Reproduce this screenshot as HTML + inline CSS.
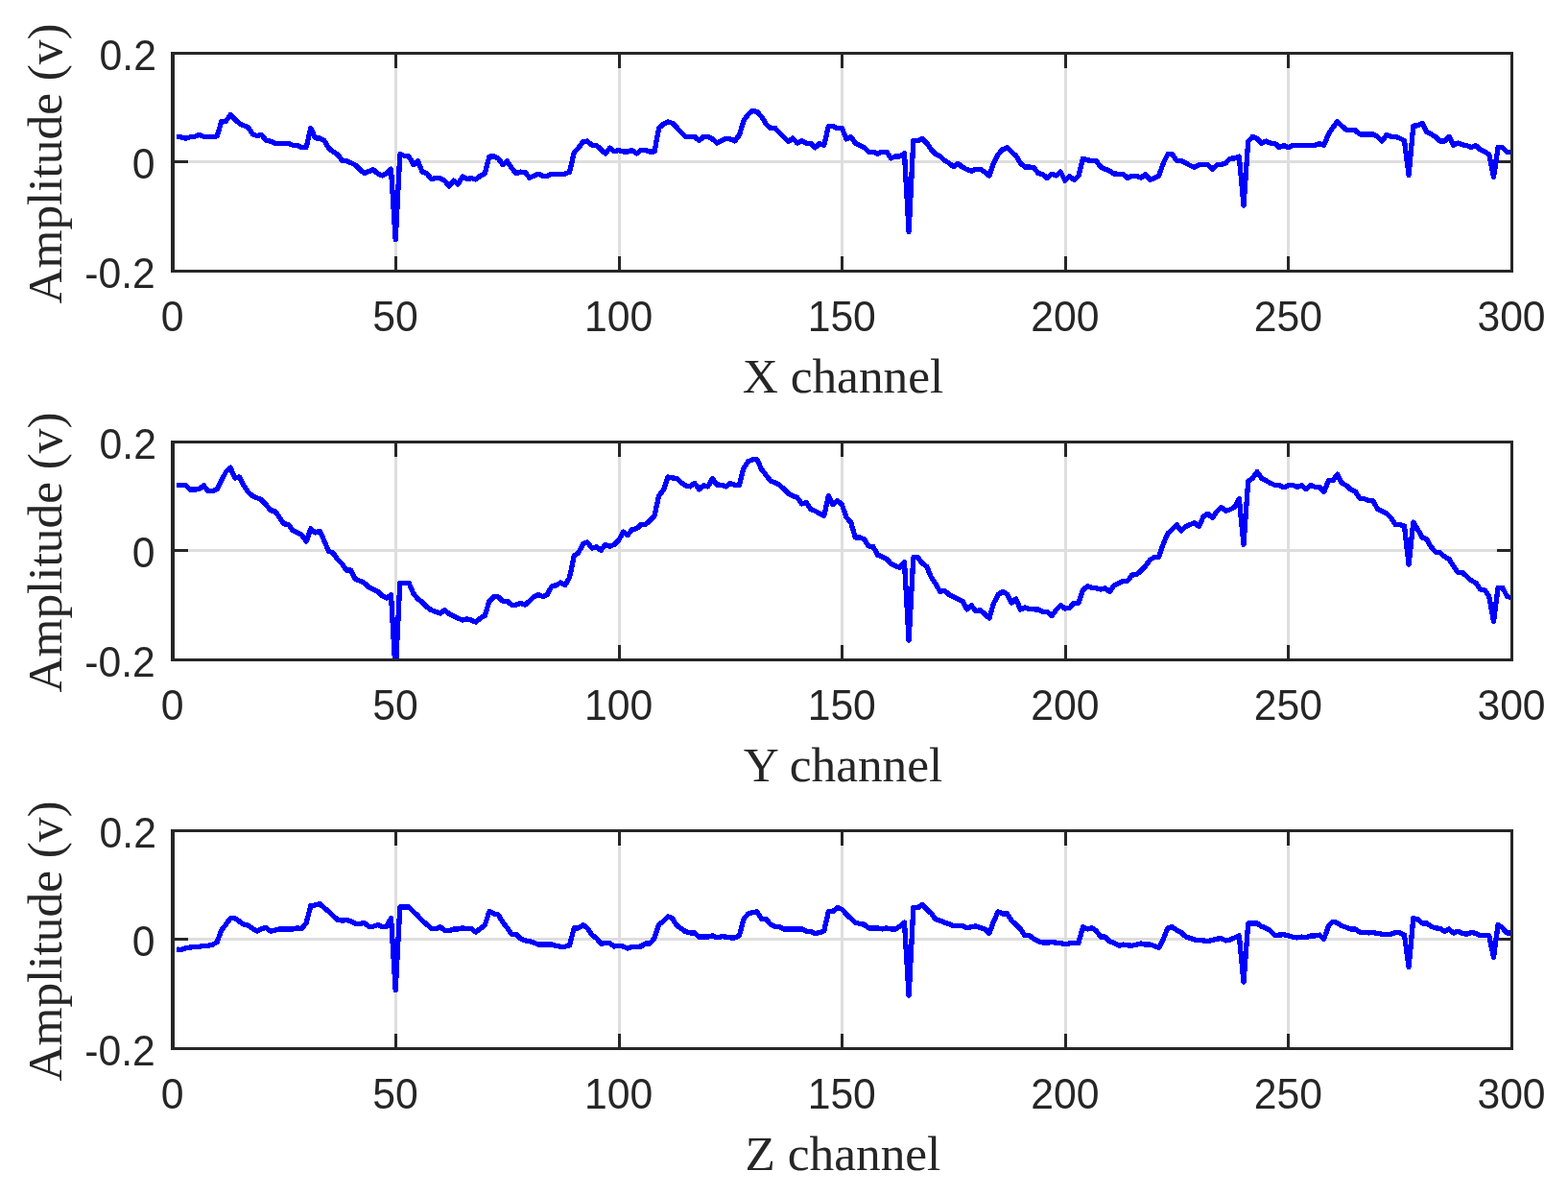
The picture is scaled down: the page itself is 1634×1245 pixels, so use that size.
<!DOCTYPE html>
<html><head><meta charset="utf-8"><title>Amplitude channels</title>
<style>
html,body{margin:0;padding:0;background:#fff;}
body{width:1634px;height:1245px;overflow:hidden;}
svg{display:block;}
.t{font-family:"Liberation Sans",sans-serif;font-size:42.7px;fill:#262626;}
.l{font-family:"Liberation Serif",serif;font-size:50.0px;fill:#262626;}
.ax{fill:#262626;shape-rendering:crispEdges;}
.g{fill:#dedede;shape-rendering:crispEdges;}
.d{fill:none;stroke:#0000ff;stroke-width:5.3;stroke-linejoin:round;stroke-linecap:butt;shape-rendering:crispEdges;}
</style></head><body>
<svg width="1634" height="1245" viewBox="0 0 1634 1245">
<rect width="1634" height="1245" fill="#fff"/>
<g>
<rect class="g" x="411" y="57" width="3" height="224"/>
<rect class="g" x="644" y="57" width="3" height="224"/>
<rect class="g" x="876" y="57" width="3" height="224"/>
<rect class="g" x="1109" y="57" width="3" height="224"/>
<rect class="g" x="1341" y="57" width="3" height="224"/>
<rect class="g" x="182" y="167" width="1392" height="3"/>
<rect class="ax" x="411" y="54" width="3" height="17"/>
<rect class="ax" x="411" y="267" width="3" height="17"/>
<rect class="ax" x="644" y="54" width="3" height="17"/>
<rect class="ax" x="644" y="267" width="3" height="17"/>
<rect class="ax" x="876" y="54" width="3" height="17"/>
<rect class="ax" x="876" y="267" width="3" height="17"/>
<rect class="ax" x="1109" y="54" width="3" height="17"/>
<rect class="ax" x="1109" y="267" width="3" height="17"/>
<rect class="ax" x="1341" y="54" width="3" height="17"/>
<rect class="ax" x="1341" y="267" width="3" height="17"/>
<rect class="ax" x="178" y="167" width="18" height="3"/>
<rect class="ax" x="1560" y="167" width="17" height="3"/>
<clipPath id="c0"><rect x="180" y="56" width="1396" height="226"/></clipPath>
<polyline class="d" clip-path="url(#c0)" points="184.3,142.4 188.9,142.9 193.6,144.1 198.2,142.8 202.9,142.3 207.5,140.4 212.2,142.3 216.8,142.4 221.5,142.4 226.1,141.9 230.8,126.6 235.4,126.3 240.1,119.6 244.7,124.1 249.4,128.6 254.0,130.8 258.7,132.9 263.3,139.6 268.0,141.6 272.6,140.4 277.3,146.3 281.9,147.1 286.6,149.1 291.2,149.4 295.9,149.4 300.5,149.4 305.2,151.3 309.8,151.6 314.5,153.8 319.2,153.3 323.8,133.6 328.5,143.8 333.1,144.1 337.8,146.3 342.4,154.1 347.1,158.2 351.7,160.7 356.4,167.1 361.0,167.4 365.7,169.6 370.3,171.9 375.0,176.6 379.6,180.7 384.3,178.6 388.9,176.6 393.6,180.7 398.2,182.9 402.9,180.7 407.5,176.2 412.2,249.8 416.8,160.7 421.5,162.4 426.1,162.9 430.8,171.6 435.4,167.9 440.1,179.1 444.7,180.7 449.4,186.5 454.0,185.7 458.7,185.7 463.4,188.2 468.0,194.0 472.7,188.2 477.3,191.9 482.0,184.1 486.6,186.5 491.3,185.7 495.9,186.9 500.6,183.2 505.2,180.7 509.9,163.2 514.5,162.9 519.2,164.9 523.8,171.6 528.5,167.9 533.1,174.9 537.8,180.7 542.4,179.1 547.1,179.4 551.7,185.2 556.4,183.2 561.0,181.2 565.7,183.2 570.3,183.2 575.0,181.2 579.6,181.2 584.3,181.2 588.9,181.2 593.6,179.1 598.2,159.1 602.9,154.1 607.6,147.4 612.2,147.1 616.9,151.3 621.5,151.3 626.2,155.8 630.8,159.9 635.5,154.1 640.1,157.8 644.8,156.6 649.4,157.9 654.1,157.9 658.7,156.6 663.4,159.9 668.0,156.6 672.7,156.6 677.3,158.2 682.0,157.9 686.6,133.6 691.3,129.1 695.9,127.0 700.6,128.3 705.2,132.9 709.9,137.9 714.5,142.4 719.2,142.4 723.8,142.4 728.5,146.6 733.1,142.4 737.8,142.4 742.5,144.9 747.1,149.1 751.8,146.6 756.4,144.4 761.1,144.9 765.7,146.9 770.4,140.8 775.0,125.8 779.7,119.1 784.3,115.3 789.0,116.6 793.6,121.6 798.3,129.1 802.9,133.6 807.6,133.3 812.2,138.3 816.9,142.9 821.5,147.4 826.2,144.1 830.8,149.1 835.5,146.9 840.1,149.1 844.8,149.4 849.4,153.8 854.1,149.4 858.7,151.3 863.4,131.6 868.0,131.6 872.7,133.6 877.4,133.6 882.0,144.9 886.7,142.4 891.3,149.1 896.0,151.3 900.6,153.6 905.3,158.2 909.9,158.2 914.6,160.2 919.2,158.2 923.9,158.2 928.5,164.9 933.2,162.9 937.8,162.9 942.5,159.9 947.1,241.5 951.8,146.6 956.4,146.6 961.1,144.6 965.7,149.1 970.4,155.8 975.0,160.4 979.7,162.9 984.3,167.1 989.0,169.9 993.6,173.7 998.3,170.2 1002.9,174.1 1007.6,176.6 1012.2,178.2 1016.9,176.2 1021.6,176.2 1026.2,179.1 1030.9,183.2 1035.5,169.9 1040.2,160.7 1044.8,155.8 1049.5,153.8 1054.1,158.2 1058.8,162.4 1063.4,169.9 1068.1,174.1 1072.7,174.1 1077.4,174.4 1082.0,180.7 1086.7,181.6 1091.3,185.7 1096.0,181.2 1100.6,182.9 1105.3,179.1 1109.9,188.2 1114.6,183.6 1119.2,187.4 1123.9,183.2 1128.5,165.2 1133.2,166.9 1137.8,167.4 1142.5,167.4 1147.1,174.1 1151.8,176.2 1156.4,178.2 1161.1,181.1 1165.8,181.2 1170.4,181.2 1175.1,185.7 1179.7,183.2 1184.4,183.2 1189.0,185.2 1193.7,181.6 1198.3,187.4 1203.0,185.7 1207.6,183.2 1212.3,169.9 1216.9,160.7 1221.6,160.7 1226.2,167.4 1230.9,167.4 1235.5,169.9 1240.2,172.4 1244.8,174.4 1249.5,171.6 1254.1,171.6 1258.8,171.6 1263.4,176.2 1268.1,171.9 1272.7,171.6 1277.4,169.9 1282.0,165.2 1286.7,164.9 1291.3,163.2 1296.0,214.0 1300.7,147.4 1305.3,142.4 1310.0,144.6 1314.6,149.1 1319.3,147.1 1323.9,149.1 1328.6,149.4 1333.2,153.6 1337.9,151.6 1342.5,153.6 1347.2,151.6 1351.8,151.6 1356.5,151.6 1361.1,151.6 1365.8,151.6 1370.4,151.3 1375.1,149.6 1379.7,151.3 1384.4,139.9 1389.0,132.9 1393.7,126.6 1398.3,131.1 1403.0,135.3 1407.6,135.3 1412.3,135.8 1416.9,139.9 1421.6,139.9 1426.2,139.9 1430.9,139.9 1435.5,142.4 1440.2,147.1 1444.9,140.4 1449.5,142.1 1454.2,142.4 1458.8,144.1 1463.5,146.6 1468.1,182.4 1472.8,131.1 1477.4,130.8 1482.1,128.6 1486.7,137.4 1491.4,139.9 1496.0,142.4 1500.7,147.1 1505.3,147.1 1510.0,142.4 1514.6,151.3 1519.3,149.1 1523.9,150.8 1528.6,151.6 1533.2,153.6 1537.9,151.6 1542.5,155.8 1547.2,158.2 1551.8,160.7 1556.5,184.6 1561.1,153.6 1565.8,153.6 1570.4,158.2 1575.1,158.2 1579.1,158.2"/>
<rect class="ax" x="178" y="54" width="1399" height="3"/>
<rect class="ax" x="178" y="281" width="1399" height="3"/>
<rect class="ax" x="178" y="54" width="4" height="230"/>
<rect class="ax" x="1574" y="54" width="3" height="230"/>
<text class="t" text-anchor="middle" transform="translate(179.50,344.60) scale(1,1.02)">0</text>
<text class="t" text-anchor="middle" transform="translate(412.08,344.60) scale(1,1.02)">50</text>
<text class="t" text-anchor="middle" transform="translate(644.67,344.60) scale(1,1.02)">100</text>
<text class="t" text-anchor="middle" transform="translate(877.25,344.60) scale(1,1.02)">150</text>
<text class="t" text-anchor="middle" transform="translate(1109.83,344.60) scale(1,1.02)">200</text>
<text class="t" text-anchor="middle" transform="translate(1342.42,344.60) scale(1,1.02)">250</text>
<text class="t" text-anchor="middle" transform="translate(1575.00,344.60) scale(1,1.02)">300</text>
<text class="t" text-anchor="end" transform="translate(162.90,72.60) scale(1,1.02)">0.2</text>
<text class="t" text-anchor="end" transform="translate(161.40,186.40) scale(1,1.02)">0</text>
<text class="t" text-anchor="end" transform="translate(161.80,299.60) scale(1,1.02)">-0.2</text>
<text class="l" text-anchor="middle" transform="translate(878.50,409.00) scale(1.027,1)">X channel</text>
<text class="l" text-anchor="middle" transform="translate(64.2,170.50) rotate(-90) scale(1.027,1)">Amplitude (v)</text>
</g>
<g>
<rect class="g" x="411" y="462" width="3" height="224"/>
<rect class="g" x="644" y="462" width="3" height="224"/>
<rect class="g" x="876" y="462" width="3" height="224"/>
<rect class="g" x="1109" y="462" width="3" height="224"/>
<rect class="g" x="1341" y="462" width="3" height="224"/>
<rect class="g" x="182" y="572" width="1392" height="3"/>
<rect class="ax" x="411" y="459" width="3" height="17"/>
<rect class="ax" x="411" y="672" width="3" height="17"/>
<rect class="ax" x="644" y="459" width="3" height="17"/>
<rect class="ax" x="644" y="672" width="3" height="17"/>
<rect class="ax" x="876" y="459" width="3" height="17"/>
<rect class="ax" x="876" y="672" width="3" height="17"/>
<rect class="ax" x="1109" y="459" width="3" height="17"/>
<rect class="ax" x="1109" y="672" width="3" height="17"/>
<rect class="ax" x="1341" y="459" width="3" height="17"/>
<rect class="ax" x="1341" y="672" width="3" height="17"/>
<rect class="ax" x="178" y="572" width="18" height="3"/>
<rect class="ax" x="1560" y="572" width="17" height="3"/>
<clipPath id="c1"><rect x="180" y="461" width="1396" height="226"/></clipPath>
<polyline class="d" clip-path="url(#c1)" points="184.3,505.5 188.9,505.5 193.6,505.8 198.2,510.0 202.9,510.0 207.5,509.6 212.2,505.8 216.8,511.6 221.5,511.6 226.1,509.6 230.8,500.8 235.4,491.7 240.1,487.2 244.7,498.0 249.4,497.0 254.0,505.8 258.7,513.0 263.3,516.6 268.0,518.8 272.6,520.8 277.3,525.8 281.9,531.9 286.6,532.4 291.2,539.1 295.9,545.8 300.5,546.3 305.2,552.9 309.8,554.9 314.5,557.4 319.2,564.1 323.8,550.8 328.5,554.9 333.1,553.2 337.8,563.2 342.4,574.1 347.1,576.2 351.7,582.9 356.4,587.4 361.0,594.0 365.7,594.0 370.3,603.2 375.0,605.2 379.6,607.4 384.3,611.8 388.9,614.0 393.6,616.2 398.2,620.7 402.9,623.2 407.5,619.8 412.2,701.4 416.8,607.4 421.5,607.4 426.1,607.4 430.8,618.2 435.4,624.0 440.1,627.5 444.7,632.3 449.4,635.6 454.0,637.3 458.7,639.0 463.4,635.6 468.0,639.5 472.7,641.8 477.3,644.0 482.0,646.1 486.6,644.8 491.3,646.1 495.9,648.1 500.6,644.0 505.2,641.5 509.9,626.5 514.5,621.8 519.2,621.8 523.8,626.2 528.5,626.2 533.1,630.2 537.8,630.2 542.4,628.5 547.1,630.2 551.7,626.2 556.4,621.8 561.0,619.5 565.7,621.5 570.3,619.5 575.0,610.7 579.6,609.8 584.3,606.9 588.9,609.5 593.6,601.5 598.2,579.1 602.9,575.7 607.6,566.6 612.2,564.9 616.9,571.1 621.5,569.9 626.2,573.2 630.8,567.4 635.5,569.1 640.1,567.4 644.8,562.9 649.4,554.1 654.1,557.4 658.7,551.6 663.4,550.8 668.0,546.6 672.7,546.3 677.3,542.4 682.0,537.4 686.6,516.6 691.3,510.8 695.9,497.0 700.6,498.0 705.2,498.3 709.9,503.0 714.5,505.8 719.2,506.9 723.8,503.3 728.5,509.9 733.1,505.8 737.8,506.9 742.5,498.6 747.1,505.0 751.8,505.3 756.4,506.9 761.1,503.6 765.7,505.3 770.4,505.3 775.0,487.5 779.7,480.8 784.3,478.8 789.0,478.8 793.6,489.1 798.3,495.0 802.9,500.8 807.6,503.0 812.2,505.0 816.9,509.6 821.5,514.1 826.2,516.6 830.8,518.3 835.5,524.9 840.1,523.6 844.8,530.4 849.4,532.4 854.1,534.9 858.7,537.4 863.4,516.6 868.0,525.8 872.7,521.6 877.4,525.8 882.0,539.1 886.7,544.1 891.3,559.9 896.0,559.9 900.6,561.9 905.3,569.0 909.9,569.5 914.6,578.2 919.2,579.9 923.9,582.4 928.5,587.4 933.2,589.8 937.8,591.2 942.5,585.7 947.1,667.3 951.8,580.7 956.4,580.7 961.1,586.9 965.7,590.2 970.4,601.5 975.0,608.2 979.7,616.5 984.3,615.2 989.0,619.5 993.6,621.8 998.3,624.0 1002.9,626.2 1007.6,634.8 1012.2,630.7 1016.9,636.8 1021.6,635.6 1026.2,639.8 1030.9,644.0 1035.5,628.5 1040.2,619.5 1044.8,616.5 1049.5,619.0 1054.1,628.2 1058.8,624.0 1063.4,635.1 1068.1,632.8 1072.7,634.8 1077.4,634.8 1082.0,635.1 1086.7,637.3 1091.3,637.3 1096.0,641.5 1100.6,635.6 1105.3,630.7 1109.9,634.0 1114.6,633.2 1119.2,628.5 1123.9,628.2 1128.5,614.8 1133.2,610.7 1137.8,612.3 1142.5,612.8 1147.1,614.0 1151.8,612.8 1156.4,616.5 1161.1,609.8 1165.8,607.4 1170.4,605.2 1175.1,605.2 1179.7,599.0 1184.4,598.7 1189.0,594.5 1193.7,589.9 1198.3,583.2 1203.0,580.7 1207.6,580.2 1212.3,566.6 1216.9,555.7 1221.6,551.6 1226.2,546.6 1230.9,553.2 1235.5,548.6 1240.2,546.6 1244.8,544.6 1249.5,548.6 1254.1,537.9 1258.8,535.2 1263.4,539.6 1268.1,532.9 1272.7,528.6 1277.4,532.4 1282.0,530.8 1286.7,528.3 1291.3,519.6 1296.0,567.4 1300.7,501.3 1305.3,498.3 1310.0,491.6 1314.6,498.3 1319.3,500.8 1323.9,503.3 1328.6,505.5 1333.2,505.5 1337.9,507.8 1342.5,505.8 1347.2,505.5 1351.8,507.4 1356.5,505.8 1361.1,509.6 1365.8,505.5 1370.4,507.4 1375.1,507.4 1379.7,512.4 1384.4,500.8 1389.0,500.8 1393.7,494.1 1398.3,503.3 1403.0,505.8 1407.6,509.9 1412.3,511.9 1416.9,519.1 1421.6,519.6 1426.2,521.6 1430.9,521.6 1435.5,530.3 1440.2,532.4 1444.9,534.9 1449.5,539.4 1454.2,546.6 1458.8,546.6 1463.5,548.2 1468.1,588.2 1472.8,544.1 1477.4,551.6 1482.1,559.9 1486.7,561.9 1491.4,569.9 1496.0,575.2 1500.7,575.7 1505.3,579.9 1510.0,582.4 1514.6,589.8 1519.3,596.5 1523.9,596.5 1528.6,600.7 1533.2,604.8 1537.9,607.3 1542.5,614.0 1547.2,614.8 1551.8,621.5 1556.5,647.3 1561.1,612.3 1565.8,612.3 1570.4,621.1 1575.1,623.1 1579.1,623.1"/>
<rect class="ax" x="178" y="459" width="1399" height="3"/>
<rect class="ax" x="178" y="686" width="1399" height="3"/>
<rect class="ax" x="178" y="459" width="4" height="230"/>
<rect class="ax" x="1574" y="459" width="3" height="230"/>
<text class="t" text-anchor="middle" transform="translate(179.50,749.60) scale(1,1.02)">0</text>
<text class="t" text-anchor="middle" transform="translate(412.08,749.60) scale(1,1.02)">50</text>
<text class="t" text-anchor="middle" transform="translate(644.67,749.60) scale(1,1.02)">100</text>
<text class="t" text-anchor="middle" transform="translate(877.25,749.60) scale(1,1.02)">150</text>
<text class="t" text-anchor="middle" transform="translate(1109.83,749.60) scale(1,1.02)">200</text>
<text class="t" text-anchor="middle" transform="translate(1342.42,749.60) scale(1,1.02)">250</text>
<text class="t" text-anchor="middle" transform="translate(1575.00,749.60) scale(1,1.02)">300</text>
<text class="t" text-anchor="end" transform="translate(162.90,477.60) scale(1,1.02)">0.2</text>
<text class="t" text-anchor="end" transform="translate(161.40,591.40) scale(1,1.02)">0</text>
<text class="t" text-anchor="end" transform="translate(161.80,704.60) scale(1,1.02)">-0.2</text>
<text class="l" text-anchor="middle" transform="translate(878.50,814.00) scale(1.027,1)">Y channel</text>
<text class="l" text-anchor="middle" transform="translate(64.2,575.50) rotate(-90) scale(1.027,1)">Amplitude (v)</text>
</g>
<g>
<rect class="g" x="411" y="867" width="3" height="224"/>
<rect class="g" x="644" y="867" width="3" height="224"/>
<rect class="g" x="876" y="867" width="3" height="224"/>
<rect class="g" x="1109" y="867" width="3" height="224"/>
<rect class="g" x="1341" y="867" width="3" height="224"/>
<rect class="g" x="182" y="977" width="1392" height="3"/>
<rect class="ax" x="411" y="864" width="3" height="17"/>
<rect class="ax" x="411" y="1077" width="3" height="17"/>
<rect class="ax" x="644" y="864" width="3" height="17"/>
<rect class="ax" x="644" y="1077" width="3" height="17"/>
<rect class="ax" x="876" y="864" width="3" height="17"/>
<rect class="ax" x="876" y="1077" width="3" height="17"/>
<rect class="ax" x="1109" y="864" width="3" height="17"/>
<rect class="ax" x="1109" y="1077" width="3" height="17"/>
<rect class="ax" x="1341" y="864" width="3" height="17"/>
<rect class="ax" x="1341" y="1077" width="3" height="17"/>
<rect class="ax" x="178" y="977" width="18" height="3"/>
<rect class="ax" x="1560" y="977" width="17" height="3"/>
<clipPath id="c2"><rect x="180" y="866" width="1396" height="226"/></clipPath>
<polyline class="d" clip-path="url(#c2)" points="184.3,989.0 188.9,989.5 193.6,987.7 198.2,987.0 202.9,986.5 207.5,986.2 212.2,985.4 216.8,985.2 221.5,984.1 226.1,981.6 230.8,969.1 235.4,963.2 240.1,956.6 244.7,956.6 249.4,959.9 254.0,963.2 258.7,964.1 263.3,967.4 268.0,970.2 272.6,967.4 277.3,966.6 281.9,970.2 286.6,969.1 291.2,967.9 295.9,967.9 300.5,967.9 305.2,967.9 309.8,966.9 314.5,967.4 319.2,961.6 323.8,943.6 328.5,942.9 333.1,941.6 337.8,945.8 342.4,949.6 347.1,954.1 351.7,958.2 356.4,959.1 361.0,958.7 365.7,959.6 370.3,962.4 375.0,962.4 379.6,961.6 384.3,965.2 388.9,965.2 393.6,963.6 398.2,965.4 402.9,965.4 407.5,956.6 412.2,1031.5 416.8,944.9 421.5,944.9 426.1,944.9 430.8,949.6 435.4,954.1 440.1,959.1 444.7,963.2 449.4,967.1 454.0,967.9 458.7,965.7 463.4,969.1 468.0,969.9 472.7,967.9 477.3,967.9 482.0,966.9 486.6,967.7 491.3,967.7 495.9,971.1 500.6,967.4 505.2,964.1 509.9,949.6 514.5,951.9 519.2,952.9 523.8,960.7 528.5,966.6 533.1,973.2 537.8,973.2 542.4,977.9 547.1,979.9 551.7,980.7 556.4,982.1 561.0,984.1 565.7,984.1 570.3,984.1 575.0,984.1 579.6,985.4 584.3,986.2 588.9,986.2 593.6,984.9 598.2,966.9 602.9,966.9 607.6,963.6 612.2,966.9 616.9,974.1 621.5,977.4 626.2,983.2 630.8,982.7 635.5,982.7 640.1,986.0 644.8,985.4 649.4,986.0 654.1,988.2 658.7,986.5 663.4,986.5 668.0,986.0 672.7,982.9 677.3,982.9 682.0,977.4 686.6,963.2 691.3,959.9 695.9,954.9 700.6,956.6 705.2,964.1 709.9,967.4 714.5,970.7 719.2,971.9 723.8,971.9 728.5,976.1 733.1,976.1 737.8,976.1 742.5,974.9 747.1,976.9 751.8,975.7 756.4,976.1 761.1,976.9 765.7,976.9 770.4,974.9 775.0,957.4 779.7,951.9 784.3,950.8 789.0,949.9 793.6,957.4 798.3,957.4 802.9,963.2 807.6,965.2 812.2,965.7 816.9,967.9 821.5,967.9 826.2,967.9 830.8,967.9 835.5,967.9 840.1,970.2 844.8,970.7 849.4,972.4 854.1,971.6 858.7,969.9 863.4,949.6 868.0,949.6 872.7,945.4 877.4,947.4 882.0,952.4 886.7,956.9 891.3,961.2 896.0,962.4 900.6,963.2 905.3,966.9 909.9,966.9 914.6,966.9 919.2,967.9 923.9,966.9 928.5,967.9 933.2,967.9 937.8,965.2 942.5,961.2 947.1,1037.3 951.8,945.8 956.4,945.8 961.1,942.4 965.7,947.4 970.4,951.6 975.0,957.9 979.7,959.1 984.3,961.2 989.0,962.7 993.6,964.6 998.3,964.6 1002.9,964.6 1007.6,966.6 1012.2,965.7 1016.9,964.9 1021.6,966.6 1026.2,967.9 1030.9,972.4 1035.5,959.9 1040.2,949.9 1044.8,951.9 1049.5,951.9 1054.1,959.1 1058.8,963.2 1063.4,967.9 1068.1,974.6 1072.7,974.6 1077.4,978.2 1082.0,980.7 1086.7,982.1 1091.3,982.1 1096.0,981.6 1100.6,982.1 1105.3,982.7 1109.9,983.6 1114.6,982.9 1119.2,982.4 1123.9,982.4 1128.5,965.7 1133.2,967.9 1137.8,966.9 1142.5,969.9 1147.1,976.1 1151.8,976.1 1156.4,980.7 1161.1,982.4 1165.8,985.2 1170.4,984.1 1175.1,984.9 1179.7,985.2 1184.4,984.1 1189.0,982.9 1193.7,984.1 1198.3,984.1 1203.0,985.4 1207.6,987.4 1212.3,978.2 1216.9,966.9 1221.6,965.7 1226.2,969.1 1230.9,971.6 1235.5,975.7 1240.2,977.4 1244.8,979.1 1249.5,979.6 1254.1,979.9 1258.8,980.7 1263.4,979.4 1268.1,978.2 1272.7,977.7 1277.4,979.9 1282.0,979.1 1286.7,976.9 1291.3,974.9 1296.0,1023.2 1300.7,961.9 1305.3,961.9 1310.0,961.9 1314.6,965.2 1319.3,966.9 1323.9,969.9 1328.6,974.6 1333.2,974.1 1337.9,973.7 1342.5,974.9 1347.2,976.2 1351.8,976.9 1356.5,976.1 1361.1,976.9 1365.8,974.9 1370.4,974.9 1375.1,974.1 1379.7,978.2 1384.4,964.9 1389.0,960.2 1393.7,961.6 1398.3,964.6 1403.0,966.2 1407.6,967.9 1412.3,967.9 1416.9,971.1 1421.6,971.6 1426.2,971.9 1430.9,971.6 1435.5,972.4 1440.2,973.2 1444.9,973.2 1449.5,973.2 1454.2,971.6 1458.8,971.9 1463.5,974.1 1468.1,1007.4 1472.8,956.6 1477.4,957.8 1482.1,961.9 1486.7,961.9 1491.4,965.2 1496.0,966.9 1500.7,967.4 1505.3,970.2 1510.0,967.9 1514.6,972.1 1519.3,970.2 1523.9,972.4 1528.6,973.2 1533.2,971.6 1537.9,972.4 1542.5,974.6 1547.2,974.6 1551.8,974.9 1556.5,997.4 1561.1,963.2 1565.8,966.9 1570.4,971.9 1575.1,971.9 1579.1,971.9"/>
<rect class="ax" x="178" y="864" width="1399" height="3"/>
<rect class="ax" x="178" y="1091" width="1399" height="3"/>
<rect class="ax" x="178" y="864" width="4" height="230"/>
<rect class="ax" x="1574" y="864" width="3" height="230"/>
<text class="t" text-anchor="middle" transform="translate(179.50,1154.60) scale(1,1.02)">0</text>
<text class="t" text-anchor="middle" transform="translate(412.08,1154.60) scale(1,1.02)">50</text>
<text class="t" text-anchor="middle" transform="translate(644.67,1154.60) scale(1,1.02)">100</text>
<text class="t" text-anchor="middle" transform="translate(877.25,1154.60) scale(1,1.02)">150</text>
<text class="t" text-anchor="middle" transform="translate(1109.83,1154.60) scale(1,1.02)">200</text>
<text class="t" text-anchor="middle" transform="translate(1342.42,1154.60) scale(1,1.02)">250</text>
<text class="t" text-anchor="middle" transform="translate(1575.00,1154.60) scale(1,1.02)">300</text>
<text class="t" text-anchor="end" transform="translate(162.90,882.60) scale(1,1.02)">0.2</text>
<text class="t" text-anchor="end" transform="translate(161.40,996.40) scale(1,1.02)">0</text>
<text class="t" text-anchor="end" transform="translate(161.80,1109.60) scale(1,1.02)">-0.2</text>
<text class="l" text-anchor="middle" transform="translate(878.50,1219.00) scale(1.027,1)">Z channel</text>
<text class="l" text-anchor="middle" transform="translate(64.2,980.50) rotate(-90) scale(1.027,1)">Amplitude (v)</text>
</g>
</svg>
</body></html>
